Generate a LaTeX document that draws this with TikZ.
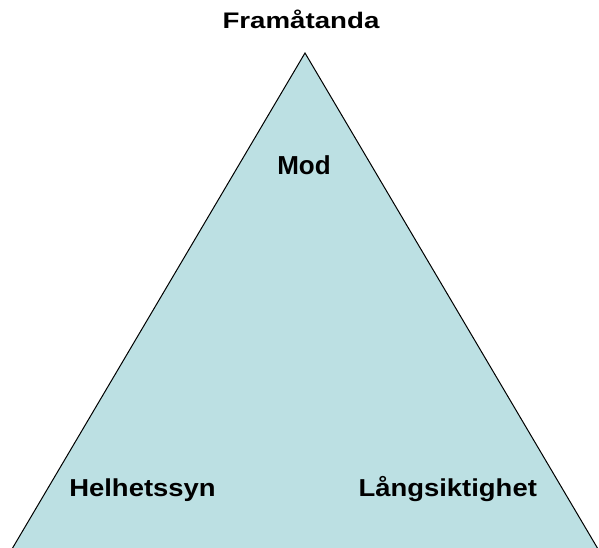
\documentclass[tikz,border=0pt]{standalone}
\usepackage{fontspec}
\setmainfont{Liberation Sans}
\begin{document}
\begin{tikzpicture}[x=1pt,y=1pt,
  lbl/.style={font=\bfseries, anchor=base, inner sep=0pt, text=black},
  edge/.style={draw=black, line width=1pt}]
\useasboundingbox (0,0) rectangle (599,548);
\coordinate (apex) at (305,495);
\coordinate (bl) at (12,-1);
\coordinate (br) at (598,-1);
\fill[fill={rgb,255:red,188;green,224;blue,227}] (apex) -- (br) -- (bl) -- cycle;
\draw[edge] (bl) -- (apex) -- (br);
\node[lbl, font=\bfseries\fontsize{22.5}{24}\selectfont, xscale=1.23] (top) at (301,519) {Framåtanda};
\node[lbl, font=\bfseries\fontsize{26}{28}\selectfont] (mod) at (304,373) {Mod};
\node[lbl, font=\bfseries\fontsize{24.5}{27}\selectfont, xscale=1.12] (hel) at (142.5,51) {Helhetssyn};
\node[lbl, font=\bfseries\fontsize{24.5}{27}\selectfont, xscale=1.12] (lang) at (447.7,51) {Långsiktighet};
\end{tikzpicture}
\end{document}
